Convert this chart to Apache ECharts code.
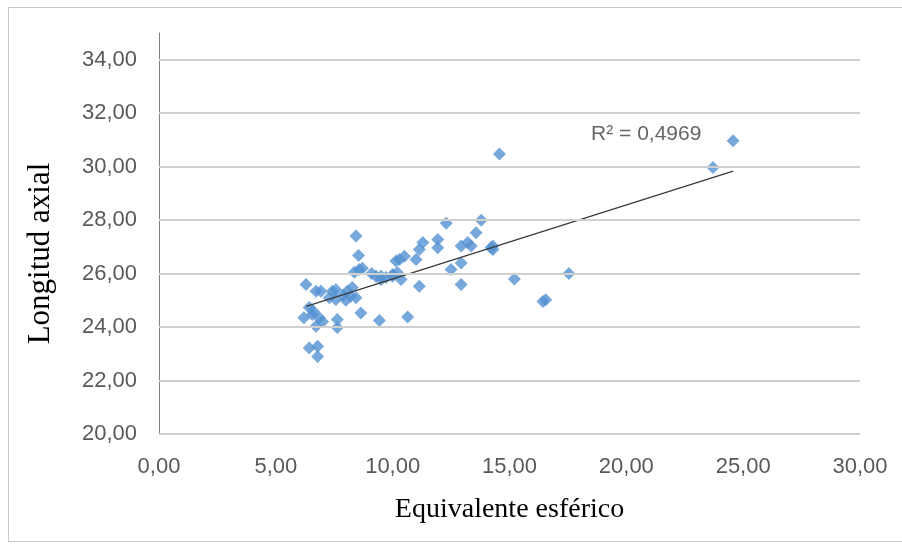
<!DOCTYPE html>
<html>
<head>
<meta charset="utf-8">
<script src="https://cdn.jsdelivr.net/npm/echarts@6/dist/echarts.min.js"></script>
<style>
html,body{margin:0;padding:0;background:#fff;}
#frame{position:absolute;left:8px;top:7px;width:900px;height:535px;border:1.5px solid #c8c8c8;border-right:none;box-sizing:border-box;}
#chart{position:absolute;left:0;top:0;width:902px;height:546px;}
</style>
</head>
<body>
<div id="frame"></div>
<div id="chart"></div>
<script>
// Equivalente esférico (x) and Longitud axial (y)
const esfericoX = [
  8.43, 8.54, 8.36, 8.57, 6.29, 6.72, 6.93, 7.42, 7.57, 7.29,
  7.57, 8.06, 8.27, 8.43, 8.20, 6.43, 6.20, 6.56, 6.86, 6.72,
  7.63, 7.63, 8.64, 9.43, 10.64, 6.43, 6.79, 6.79, 9.29, 9.50,
  9.71, 9.99, 10.20, 10.29, 10.50, 12.29, 13.79, 13.57, 11.29, 11.14,
  11.00, 11.93, 11.93, 10.14, 12.93, 13.21, 13.36, 14.29, 14.29, 12.50,
  12.93, 11.14, 12.93, 9.50, 10.00, 10.36, 14.57, 15.21, 16.43, 17.54,
  14.21, 24.57, 23.71, 8.70, 9.10, 7.90, 8.00, 6.60, 7.00, 16.55
];
const longitudY = [
  27.41, 26.68, 26.05, 26.15, 25.59, 25.34, 25.34, 25.34, 25.40, 25.10,
  25.03, 25.34, 25.48, 25.10, 25.15, 24.73, 24.35, 24.47, 24.35, 24.03,
  24.28, 23.98, 24.53, 24.25, 24.38, 23.22, 23.28, 22.90, 25.90, 25.78,
  25.85, 25.90, 26.04, 26.53, 26.65, 27.88, 28.00, 27.53, 27.16, 26.90,
  26.53, 27.28, 26.97, 26.47, 27.03, 27.16, 27.03, 27.03, 26.90, 26.15,
  26.40, 25.53, 25.59, 25.90, 25.97, 25.78, 30.47, 25.80, 24.96, 26.00,
  26.97, 30.97, 29.97, 26.20, 26.00, 25.20, 25.00, 24.60, 24.20, 25.02
];
// Trend line end points
const trendX = [6.3, 24.57];
const trendY = [24.77, 29.83];
const r2Label = 'R² = 0,4969';
const r2Pos = [20.85, 31.2];
// Axis ticks
const xTicks = [0, 5, 10, 15, 20, 25, 30];
const yTicks = [20, 22, 24, 26, 28, 30, 32, 34];

const fmt = v => v.toFixed(2).replace('.', ',');
const points = esfericoX.map((x, i) => [x, longitudY[i]]);

const chart = echarts.init(document.getElementById('chart'), null, {renderer: 'canvas'});
const labelFont = {color: '#595959', fontSize: 22, fontFamily: 'Liberation Sans'};

chart.setOption({
  backgroundColor: 'transparent',
  animation: false,
  grid: {left: 159, right: 42, top: 33, bottom: 112, containLabel: false},
  xAxis: {
    type: 'value', min: xTicks[0], max: xTicks[xTicks.length - 1], interval: 5,
    axisLine: {show: false}, axisTick: {show: false}, splitLine: {show: false},
    axisLabel: Object.assign({margin: 22, formatter: v => fmt(v)}, labelFont),
    name: 'Equivalente esférico', nameLocation: 'middle', nameGap: 62,
    nameTextStyle: {color: '#000', fontSize: 28, fontFamily: 'Liberation Serif'}
  },
  yAxis: {
    type: 'value', min: yTicks[0], max: 35, interval: 2,
    axisLine: {show: true, lineStyle: {color: '#7f7f7f', width: 1}},
    axisTick: {show: false}, splitLine: {show: false},
    axisLabel: Object.assign({margin: 22, showMaxLabel: false, formatter: v => fmt(v)}, labelFont),
    name: 'Longitud axial', nameLocation: 'middle', nameGap: 103,
    nameTextStyle: {color: '#000', fontSize: 31, fontFamily: 'Liberation Serif', padding: [0, 40, 0, 0]}
  },
  series: [
    {
      type: 'line', data: [], silent: true,
      markLine: {
        silent: true, symbol: ['none', 'none'], label: {show: false},
        lineStyle: {color: '#cfcfcf', width: 2.2, type: 'solid'},
        data: yTicks.map(v => ({yAxis: v}))
      }
    },
    {
      type: 'scatter', data: points, symbol: 'diamond', symbolSize: 13,
      itemStyle: {color: '#5592d2'}, z: 3
    },
    {
      type: 'line', data: trendX.map((x, i) => [x, trendY[i]]), symbol: 'none',
      lineStyle: {color: '#3a3a3a', width: 1.3}, z: 4
    },
    {
      type: 'scatter', data: [r2Pos], symbolSize: 0,
      label: {show: true, position: 'inside', formatter: r2Label, color: '#404040',
        fontSize: 21, fontFamily: 'Liberation Sans'}
    }
  ]
});
</script>
</body>
</html>
